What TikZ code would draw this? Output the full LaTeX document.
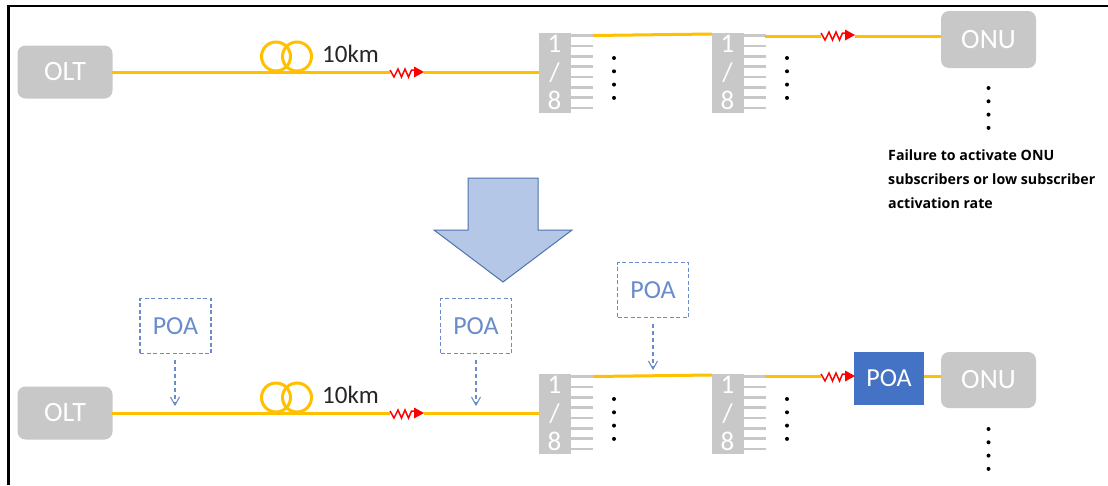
\documentclass[tikz,border=0pt]{standalone}
\usepackage{fontspec}
\setmainfont{Carlito}
\newfontfamily\notefont{Open Sans}
\usetikzlibrary{arrows.meta}
\definecolor{fibre}{HTML}{FFC000}
\definecolor{unit}{HTML}{C8C8C8}
\definecolor{poablue}{HTML}{4472C4}
\definecolor{poasoft}{HTML}{6A8CCB}
\definecolor{bigfill}{HTML}{B4C7E7}
\definecolor{bigedge}{HTML}{4F72AE}
\definecolor{ink}{HTML}{262626}
\tikzset{
  x=1pt,y=-1pt,
  unitbox/.style={draw=none,fill=unit,rounded corners=8pt,text=white,inner sep=0pt,font=\fontsize{28}{28}\selectfont},
  fibreline/.style={draw=fibre,line width=3pt},
  tooth/.style={draw=unit,line width=2.6pt},
  poadash/.style={draw=poasoft,dashed,dash pattern=on 4pt off 2.5pt,line width=1.1pt,text=poasoft,inner sep=0pt,minimum width=71pt,minimum height=55pt,font=\fontsize{26}{26}\selectfont},
  poafull/.style={fill=poablue,text=white,inner sep=0pt,minimum width=70pt,minimum height=53pt,font=\fontsize{26}{26}\selectfont},
  poaarrow/.style={draw=poasoft,dashed,dash pattern=on 4pt off 3pt,line width=1.1pt},
  poatip/.style={draw=poasoft,line width=1.1pt},
  coil/.style={draw=fibre,line width=3pt},
  zig/.style={draw=red,line width=1.5pt,line join=miter},
  digit/.style={text=white,inner sep=0pt,font=\fontsize{27}{27}\selectfont},
  dotmark/.style={circle,fill=black,inner sep=0pt,minimum size=4pt},
  kmlabel/.style={text=ink,inner sep=0pt,font=\fontsize{25}{25}\selectfont},
  note/.style={anchor=base west,inner sep=0pt,font=\notefont\bfseries\fontsize{14.2}{14.2}\selectfont},
}
% name, left x, top y
\newcommand{\splitbox}[3]{%
  \node[fill=unit,inner sep=0pt,minimum width=31.5pt,minimum height=80pt,anchor=north west] (#1) at (#2,#3) {};
  \foreach \k in {0,...,7} {
    \draw[tooth] ({#2+31},{#3+2.5+\k*10.35}) -- ({#2+54},{#3+2.5+\k*10.35});
  }
  \node[digit] (#1a) at ({#2+15.5},{#3+11}) {1};
  \node[digit] (#1b) at ({#2+15.5},{#3+40}) {/};
  \node[digit] (#1c) at ({#2+15.5},{#3+67.5}) {8};
}
% name, x, first y
\newcommand{\dotcolumn}[3]{%
  \foreach \k in {0,...,3} {
    \node[dotmark] (#1\k) at (#2,{#3+\k*13.3}) {};
  }
}
% name, start x, y: zigzag with arrow; defines #1s and #1e
\newcommand{\zigarrow}[3]{%
  \coordinate (#1s) at (#2,#3);
  \coordinate (#1e) at ({#2+34},#3);
  \draw[zig] ({#2},{#3-2}) -- ++(4,7) -- ++(4,-8) -- ++(3.5,8) -- ++(3.5,-8) -- ++(3.5,8) -- ++(3,-7) -- ++(6,0);
  \fill[red] (#1e) -- ++(-10,-5.5) -- ++(0,11) -- cycle;
}
% name, x, y
\newcommand{\coilpair}[3]{%
  \node[coil,circle,inner sep=0pt,minimum size=29pt] (#1a) at (#2,#3) {};
  \node[coil,circle,inner sep=0pt,minimum size=29pt] (#1b) at ({#2+21},#3) {};
}
% name, x, y start, y end
\newcommand{\poapointer}[4]{%
  \coordinate (#1t) at (#2,#4);
  \coordinate (#1f) at (#2,#3);
  \draw[poaarrow] (#1f) -- (#1t);
  \draw[poatip] (#1t) ++(-4.5,-8) -- (#1t) -- ++(4.5,-8);
}
\begin{document}
\begin{tikzpicture}
\useasboundingbox (0,0) rectangle (1108,485);
\fill[white] (0,0) rectangle (1108,485);
\coordinate (frameA) at (8.5,485);
\coordinate (frameB) at (8.5,6);
\coordinate (frameC) at (1108,6);
\draw[black,line width=2.4pt] (frameA) -- (frameB) -- (frameC);

% upper chain
\node[unitbox,minimum width=95pt,minimum height=53pt] (olt1) at (65,72) {OLT};
\coilpair{coilA}{276}{56.5}
\node[kmlabel,anchor=west] (kmA) at (322,54) {10km};
\zigarrow{zA}{390}{72}
\splitbox{sA}{539}{33}
\splitbox{sB}{712}{33}
\dotcolumn{dA}{614}{58}
\dotcolumn{dB}{787}{58}
\zigarrow{zB}{821}{35}
\node[unitbox,minimum width=95pt,minimum height=57pt] (onu1) at (988.5,39.5) {ONU};
\dotcolumn{dC}{988.5}{88}
\coordinate (tA) at (593,35.5);
\coordinate (tAe) at (712,34);
\draw[fibreline] (olt1.east) ++(-1,0) -- (zAs);
\draw[fibreline] (zAe) -- (sA.west |- zAe);
\draw[fibreline] (tA) -- (tAe);
\coordinate (tB) at (765,36);
\draw[fibreline] (tB) -- (zBs |- tB);
\draw[fibreline] (zBe |- tB) -- (onu1.west |- tB);

% note
\node[note] (noteA) at (888,160) {Failure to activate ONU};
\node[note] (noteB) at (888,184) {subscribers or low subscriber};
\node[note] (noteC) at (888,208) {activation rate};

% big arrow
\draw[fill=bigfill,draw=bigedge,line width=1pt,line join=miter] (468,178) -- (538,178) -- (538,230) -- (572,230) -- (503,282) -- (434,230) -- (468,230) -- cycle;

% lower chain
\node[unitbox,minimum width=95pt,minimum height=53pt] (olt2) at (65,413) {OLT};
\coilpair{coilB}{276}{397.5}
\node[kmlabel,anchor=west] (kmB) at (322,395) {10km};
\zigarrow{zC}{390}{413}
\splitbox{sC}{539}{374}
\splitbox{sD}{712}{374}
\dotcolumn{dD}{614}{399}
\dotcolumn{dE}{787}{399}
\node[poafull] (poaF) at (889,378.5) {POA};
\zigarrow{zD}{821}{376}
\node[unitbox,minimum width=95pt,minimum height=56pt] (onu2) at (988.5,380) {ONU};
\dotcolumn{dF}{988.5}{429}
\coordinate (tC) at (593,376.5);
\coordinate (tCe) at (712,375);
\draw[fibreline] (olt2.east) ++(-1,0) -- (zCs);
\draw[fibreline] (zCe) -- (sC.west |- zCe);
\draw[fibreline] (tC) -- (tCe);
\coordinate (tD) at (765,376);
\draw[fibreline] (tD) -- (zDs);
\draw[fibreline] (poaF.east |- tD) -- (onu2.west |- tD);

% dashed POA
\node[poadash] (poaA) at (175.5,326) {POA};
\node[poadash] (poaB) at (476,326) {POA};
\node[poadash] (poaC) at (653,290) {POA};
\poapointer{pA}{175}{360}{405}
\poapointer{pB}{476}{360}{405}
\poapointer{pC}{653}{324}{369}
\end{tikzpicture}
\end{document}
